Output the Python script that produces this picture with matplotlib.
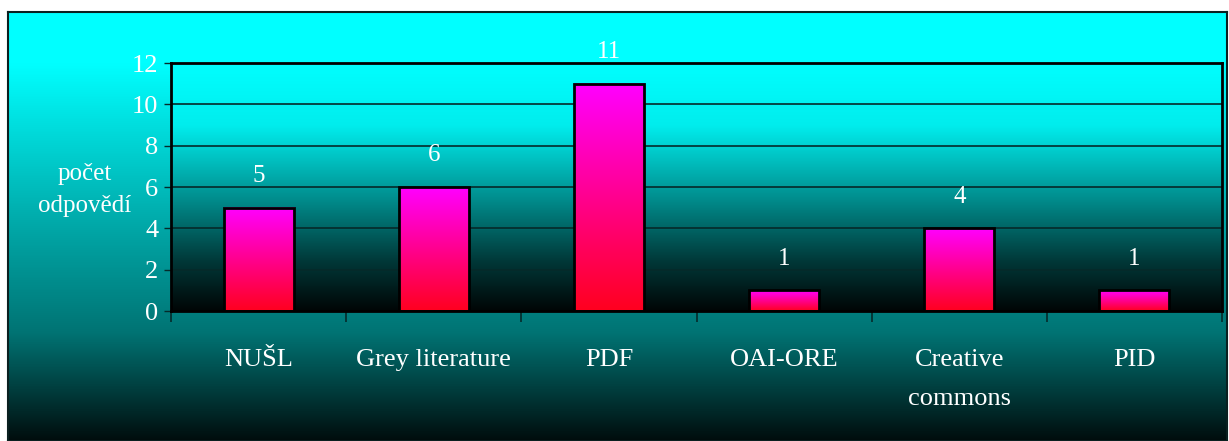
import numpy as np
import matplotlib
matplotlib.use("Agg")
import matplotlib.pyplot as plt
from matplotlib.colors import LinearSegmentedColormap
from matplotlib.patches import Rectangle

# Data
categories = ["NUŠL", "Grey literature", "PDF", "OAI-ORE", "Creative\ncommons", "PID"]
values = [5, 6, 11, 1, 4, 1]
y_ticks = [0, 2, 4, 6, 8, 10, 12]

plt.rcParams['font.family'] = ['Liberation Serif', 'DejaVu Serif']

W, H = 1229, 441
fig = plt.figure(figsize=(W / 100, H / 100), dpi=100)
fig.patch.set_facecolor("white")

# outer gradient frame (cyan at top, dark at bottom)
outer_cmap = LinearSegmentedColormap.from_list(
    "outer", [(0.0, (0, 1, 1)), (0.12, (0, 1, 1)), (0.45, (0, 0.70, 0.70)),
              (0.75, (0, 0.45, 0.45)), (1.0, (0, 0.05, 0.05))])
bg = fig.add_axes([8 / W, 0, (W - 10) / W, (H - 12) / H])
grad = np.linspace(0, 1, 256).reshape(-1, 1)
bg.imshow(grad, cmap=outer_cmap, aspect="auto", extent=[0, 1, 0, 1], origin="upper")
bg.set_xlim(0, 1)
bg.set_ylim(0, 1)
bg.set_xticks([])
bg.set_yticks([])
for s in bg.spines.values():
    s.set_color("#0a2020")
    s.set_linewidth(1.5)

# plot area
x0, x1, y0, y1 = 171, 1222, 63, 311
ax = fig.add_axes([x0 / W, 1 - y1 / H, (x1 - x0) / W, (y1 - y0) / H])
ax.set_facecolor("none")

plot_cmap = LinearSegmentedColormap.from_list(
    "plot", [(0.0, (0, 1, 1)), (0.25, (0, 0.93, 0.93)), (0.55, (0, 0.55, 0.55)),
             (0.8, (0, 0.22, 0.22)), (1.0, (0, 0.02, 0.02))])
n = len(categories)
ax.imshow(grad, cmap=plot_cmap, aspect="auto", extent=[-0.5, n - 0.5, 0, 12],
          origin="upper", zorder=0)

ax.set_xlim(-0.5, n - 0.5)
ax.set_ylim(0, 12)

for yt in y_ticks[1:-1]:
    ax.axhline(yt, color="#062a2a", linewidth=1.2, zorder=1)

bar_cmap = LinearSegmentedColormap.from_list("bar", [(1, 0, 1), (1, 0, 0.12)])
bw = 0.4
for i, v in enumerate(values):
    ax.imshow(grad, cmap=bar_cmap, aspect="auto",
              extent=[i - bw / 2, i + bw / 2, 0, v], origin="upper", zorder=2)
    ax.add_patch(Rectangle((i - bw / 2, 0), bw, v, facecolor="none",
                           edgecolor="black", linewidth=2, zorder=3))
    ax.text(i, v + 1.0, str(v), ha="center", va="bottom", color="white",
            fontsize=18, zorder=4)

ax.set_yticks(y_ticks)
ax.set_yticklabels([str(t) for t in y_ticks], color="white", fontsize=19)
ax.tick_params(axis="y", length=5, width=1, color="#062a2a", pad=4)

ax.set_xticks(np.arange(-0.5, n, 1.0))
ax.set_xticklabels([])
ax.tick_params(axis="x", length=8, width=1.2, color="#062a2a")
for i, c in enumerate(categories):
    ax.text(i, -1.85, c, ha="center", va="top", color="white", fontsize=19,
            linespacing=2.0, transform=ax.transData)

for s in ax.spines.values():
    s.set_color("black")
    s.set_linewidth(2)
    s.set_zorder(5)

fig.text(85 / W, 1 - 190 / H, "počet\nodpovědí", ha="center", va="center",
         color="white", fontsize=18, linespacing=1.6)

fig.savefig("out.png", dpi=100, facecolor=fig.get_facecolor())
